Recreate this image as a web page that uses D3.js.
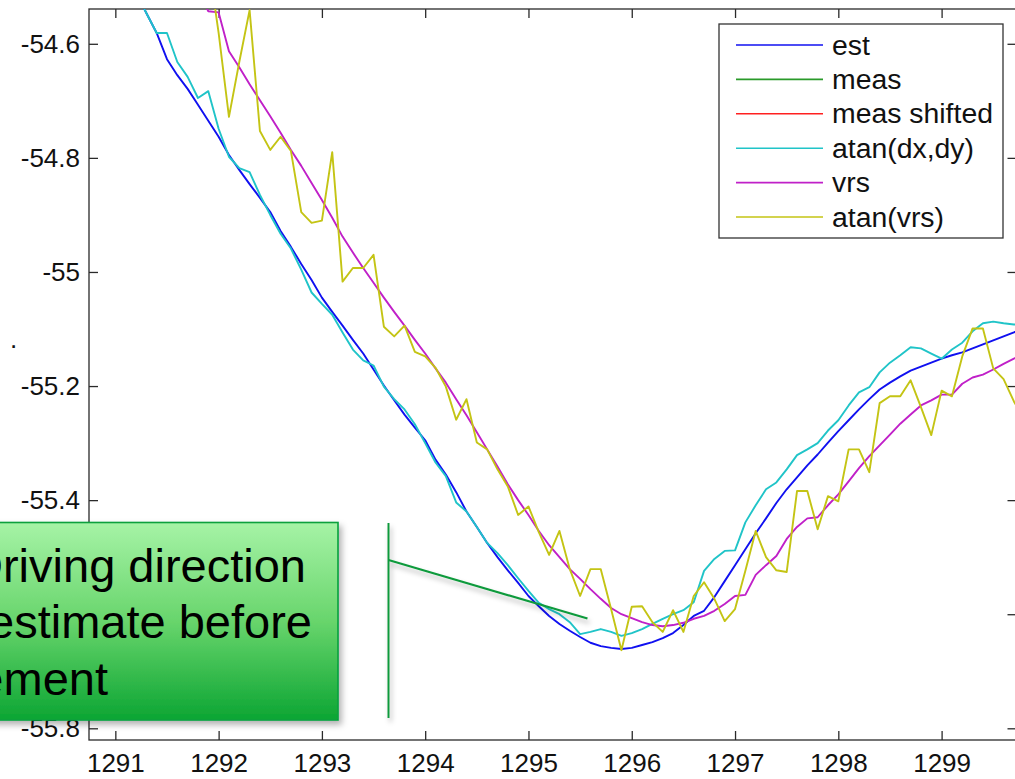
<!DOCTYPE html>
<html><head><meta charset="utf-8">
<script src="https://cdn.jsdelivr.net/npm/d3@7"></script>
<style>
html,body{margin:0;padding:0;background:#fff;overflow:hidden}
svg{display:block;font-family:"Liberation Sans",Arial,Helvetica,sans-serif}
</style>
</head><body>
<svg id="c" width="1015" height="779"></svg>
<script>
// ---- data ----
const xs = [1291.2,1291.3,1291.4,1291.5,1291.6,1291.7,1291.8,1291.9,1292.0,
1292.1,1292.2,1292.3,1292.4,1292.5,1292.6,1292.7,1292.8,1292.9,1293.0,
1293.1,1293.2,1293.3,1293.4,1293.5,1293.6,1293.7,1293.8,1293.9,1294.0,
1294.1,1294.2,1294.3,1294.4,1294.5,1294.6,1294.7,1294.8,1294.9,1295.0,
1295.1,1295.2,1295.3,1295.4,1295.5,1295.6,1295.7,1295.8,1295.9,1296.0,
1296.1,1296.2,1296.3,1296.4,1296.5,1296.6,1296.7,1296.8,1296.9,1297.0,
1297.1,1297.2,1297.3,1297.4,1297.5,1297.6,1297.7,1297.8,1297.9,1298.0,
1298.1,1298.2,1298.3,1298.4,1298.5,1298.6,1298.7,1298.8,1298.9,1299.0,
1299.1,1299.2,1299.3,1299.4,1299.5,1299.6,1299.7,1299.8];

const est = [-54.510,-54.546,-54.581,-54.627,-54.655,-54.679,-54.707,-54.735,-54.763,
-54.795,-54.821,-54.846,-54.870,-54.895,-54.928,-54.956,-54.986,-55.014,-55.045,
-55.070,-55.094,-55.119,-55.143,-55.171,-55.199,-55.225,-55.250,-55.273,-55.295,
-55.329,-55.355,-55.386,-55.420,-55.447,-55.475,-55.500,-55.523,-55.545,-55.568,
-55.586,-55.603,-55.617,-55.629,-55.640,-55.650,-55.656,-55.659,-55.661,-55.659,
-55.654,-55.649,-55.642,-55.633,-55.619,-55.603,-55.594,-55.570,-55.542,-55.514,
-55.486,-55.458,-55.432,-55.405,-55.381,-55.360,-55.339,-55.320,-55.299,-55.279,
-55.260,-55.241,-55.223,-55.206,-55.194,-55.183,-55.173,-55.166,-55.159,-55.152,
-55.146,-55.141,-55.134,-55.127,-55.120,-55.113,-55.106,-55.097];

const meas = [];
const measShifted = [];

const atanDxDy = [-54.510,-54.546,-54.581,-54.581,-54.632,-54.658,-54.695,-54.683,-54.749,
-54.798,-54.818,-54.825,-54.865,-54.900,-54.933,-54.959,-54.996,-55.036,-55.056,
-55.075,-55.106,-55.136,-55.155,-55.164,-55.201,-55.223,-55.241,-55.267,-55.300,
-55.334,-55.358,-55.404,-55.420,-55.447,-55.475,-55.493,-55.514,-55.537,-55.559,
-55.580,-55.591,-55.600,-55.614,-55.635,-55.631,-55.626,-55.631,-55.638,-55.633,
-55.626,-55.617,-55.608,-55.600,-55.593,-55.579,-55.524,-55.503,-55.489,-55.488,
-55.439,-55.409,-55.381,-55.369,-55.346,-55.321,-55.311,-55.300,-55.278,-55.260,
-55.234,-55.211,-55.202,-55.176,-55.159,-55.146,-55.132,-55.134,-55.143,-55.152,
-55.136,-55.124,-55.104,-55.090,-55.087,-55.090,-55.092,-55.094];

const vrs = [null,null,null,null,null,null,-54.506,-54.543,-54.545,
-54.613,-54.641,-54.671,-54.699,-54.727,-54.756,-54.786,-54.814,-54.844,-54.874,
-54.905,-54.938,-54.966,-54.993,-55.019,-55.045,-55.070,-55.094,-55.119,-55.143,
-55.169,-55.194,-55.223,-55.251,-55.281,-55.311,-55.341,-55.372,-55.400,-55.426,
-55.454,-55.479,-55.500,-55.521,-55.538,-55.556,-55.573,-55.589,-55.600,-55.607,
-55.614,-55.619,-55.621,-55.619,-55.615,-55.608,-55.603,-55.594,-55.582,-55.568,
-55.566,-55.531,-55.514,-55.498,-55.468,-55.447,-55.432,-55.430,-55.409,-55.390,
-55.367,-55.344,-55.323,-55.304,-55.285,-55.266,-55.250,-55.234,-55.225,-55.215,
-55.215,-55.196,-55.185,-55.180,-55.171,-55.161,-55.152,-55.141];

const atanVrs = [null,null,null,null,null,null,null,-54.455,-54.581,
-54.728,-54.632,-54.541,-54.753,-54.786,-54.763,-54.788,-54.895,-54.914,-54.910,
-54.790,-55.017,-54.993,-54.993,-54.970,-55.096,-55.113,-55.094,-55.140,-55.148,
-55.168,-55.201,-55.259,-55.223,-55.299,-55.311,-55.346,-55.376,-55.426,-55.411,
-55.456,-55.496,-55.454,-55.521,-55.568,-55.521,-55.521,-55.591,-55.663,-55.587,
-55.586,-55.614,-55.631,-55.593,-55.631,-55.568,-55.544,-55.573,-55.612,-55.591,
-55.524,-55.454,-55.500,-55.523,-55.526,-55.384,-55.384,-55.451,-55.393,-55.402,
-55.311,-55.311,-55.351,-55.230,-55.218,-55.218,-55.190,-55.237,-55.286,-55.208,
-55.218,-55.148,-55.099,-55.099,-55.169,-55.188,-55.227,-55.259];

const seriesNames = ["est","meas","meas shifted","atan(dx,dy)","vrs","atan(vrs)"];
const seriesColors = ["#1010f0","#2a9a2a","#ff2020","#20c4c8","#c020c8","#c4c414"];
const seriesValues = [est, meas, measShifted, atanDxDy, vrs, atanVrs];

const xTicks = [1291,1292,1293,1294,1295,1296,1297,1298,1299];
const xTickLabels = ["1291","1292","1293","1294","1295","1296","1297","1298","1299"];
const yTicks = [-54.6,-54.8,-55.0,-55.2,-55.4,-55.6,-55.8];
// the -55.6 label is hidden behind the callout box in the reference
const yTickLabels = ["-54.6","-54.8","-55","-55.2","-55.4","","-55.8"];

const calloutLines = ["Driving direction","estimate before","measurement"];

// ---- layout ----
const L = 89, R = 1016.5, T = 9, B = 740;
const svg = d3.select("#c");
const x = d3.scaleLinear().domain([1290.745, 1299.73]).range([L, R + 0.5]);
const y = d3.scaleLinear().domain([-54.539, -55.8205]).range([T, B]);

const defs = svg.append("defs");
defs.append("clipPath").attr("id","plotclip").append("rect")
  .attr("x",L).attr("y",T).attr("width",R-L).attr("height",B-T);
const grad = defs.append("linearGradient").attr("id","gg").attr("x1",0).attr("y1",0).attr("x2",0).attr("y2",1);
grad.append("stop").attr("offset","0%").attr("stop-color","#a6f3a6");
grad.append("stop").attr("offset","50%").attr("stop-color","#68d56c");
grad.append("stop").attr("offset","100%").attr("stop-color","#0ca533");
const f1 = defs.append("filter").attr("id","sh").attr("x","-20%").attr("y","-20%").attr("width","140%").attr("height","140%");
f1.append("feDropShadow").attr("dx",3).attr("dy",4).attr("stdDeviation",3).attr("flood-color","#000").attr("flood-opacity",0.3);
const f2 = defs.append("filter").attr("id","sh2").attr("x","-20%").attr("y","-50%").attr("width","140%").attr("height","200%");
f2.append("feDropShadow").attr("dx",2).attr("dy",4).attr("stdDeviation",2.5).attr("flood-color","#000").attr("flood-opacity",0.3);

// axes (ticks inside, MATLAB style)
const axColor = "#2a2a2a";
function styleAxis(g){
  g.select(".domain").remove();
  g.selectAll(".tick line").attr("stroke",axColor).attr("stroke-width",1.3);
  g.selectAll(".tick text").attr("fill","#111").style("font-size","26px")
   .style("font-family",'"Liberation Sans",Arial,sans-serif');
}
svg.append("g").attr("transform",`translate(0,${B})`)
  .call(d3.axisBottom(x).tickValues(xTicks).tickFormat((d,i)=>xTickLabels[i]).tickSize(-9).tickPadding(14))
  .call(styleAxis);
svg.append("g").attr("transform",`translate(0,${T})`)
  .call(d3.axisTop(x).tickValues(xTicks).tickFormat("").tickSize(-9))
  .call(styleAxis);
svg.append("g").attr("transform",`translate(${L},0)`)
  .call(d3.axisLeft(y).tickValues(yTicks).tickFormat((d,i)=>yTickLabels[i]).tickSize(-9).tickPadding(9))
  .call(styleAxis);
svg.append("g").attr("transform",`translate(${R},0)`)
  .call(d3.axisRight(y).tickValues(yTicks).tickFormat("").tickSize(-9))
  .call(styleAxis);
svg.append("rect").attr("x",L).attr("y",T).attr("width",R-L).attr("height",B-T)
  .attr("fill","none").attr("stroke",axColor).attr("stroke-width",1.3);

// remnant of y label
svg.append("text").attr("x",10).attr("y",348).text(".").style("font-size","26px").attr("fill","#111");

// series
const line = d3.line().defined(d=>d[1]!=null).x(d=>x(d[0])).y(d=>y(d[1]));
const plot = svg.append("g").attr("clip-path","url(#plotclip)");
seriesValues.forEach((vals,i)=>{
  if(!vals.length) return;
  const pts = xs.map((xv,k)=>[xv, vals[k]]);
  plot.append("path").datum(pts).attr("d",line).attr("fill","none")
    .attr("stroke",seriesColors[i]).attr("stroke-width",1.9).attr("stroke-linejoin","round");
});

// legend
const lg = svg.append("g");
lg.append("rect").attr("x",719).attr("y",24).attr("width",284).attr("height",214)
  .attr("fill","#fff").attr("stroke","#333").attr("stroke-width",1.3);
const rowY = d3.scaleLinear().domain([0,5]).range([45,217]);
seriesNames.forEach((n,i)=>{
  lg.append("line").attr("x1",736).attr("x2",823).attr("y1",rowY(i)).attr("y2",rowY(i))
    .attr("stroke",seriesColors[i]).attr("stroke-width",1.6);
  lg.append("text").attr("x",832).attr("y",rowY(i)).attr("dy","0.34em")
    .style("font-size","28.4px").attr("fill","#111").text(n);
});

// callout box
const cb = svg.append("g");
cb.append("rect").attr("x",-20).attr("y",522.5).attr("width",358).attr("height",197.5)
  .attr("fill","url(#gg)").attr("stroke","#07a03c").attr("stroke-width",1.6).attr("filter","url(#sh)");
const lineEnds = [306, 312, 108];
const lineBase = [581.7, 638.3, 695];
calloutLines.forEach((t,i)=>{
  cb.append("text").attr("x",lineEnds[i]).attr("y",lineBase[i]).attr("text-anchor","end")
    .style("font-size","47px").attr("fill","#000").text(t);
});
// callout pointer
const cp = svg.append("g").attr("filter","url(#sh2)");
cp.append("line").attr("x1",388.5).attr("x2",388.5).attr("y1",523).attr("y2",718)
  .attr("stroke","#119a3c").attr("stroke-width",2);
cp.append("line").attr("x1",388.5).attr("y1",560).attr("x2",587.5).attr("y2",618.5)
  .attr("stroke","#119a3c").attr("stroke-width",2.2);
</script>
</body></html>
